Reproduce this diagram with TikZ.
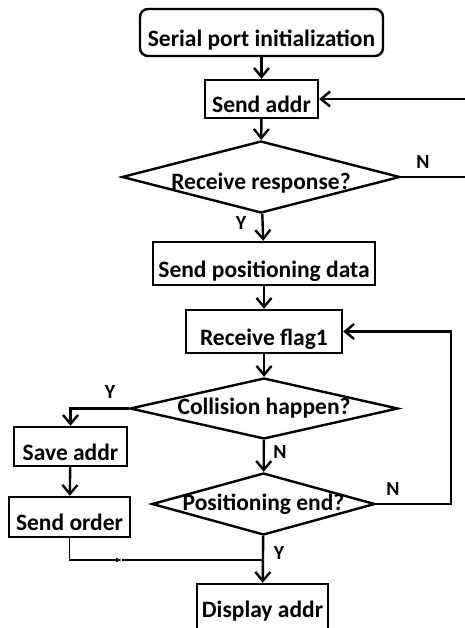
\documentclass[tikz,border=0pt]{standalone}
\usepackage{fontspec}
\setmainfont{Carlito}
\usetikzlibrary{shapes.geometric,arrows.meta}
\begin{document}
\begin{tikzpicture}
  [x=1pt,y=-1pt,line width=2.4pt,>={Straight Barb[length=9pt,width=15pt]},
   every node/.style={font=\bfseries\fontsize{23.5}{26}\selectfont,inner sep=0pt},
   box/.style={draw,rectangle,text height=27.5pt,text depth=0pt},
   cond/.style={draw,diamond},
   lbl/.style={font=\bfseries\fontsize{20}{22}\selectfont}]
  \useasboundingbox (0,0) rectangle (464,628);
  \node (init)[box,rounded corners=8pt,minimum width=243pt,minimum height=47pt] at (261.5,32.5) {Serial port initialization};
  \node (addr)[box,minimum width=113pt,minimum height=38pt] at (261.5,99) {Send addr};
  \node (resp)[cond,text height=26pt,text depth=0pt,minimum width=278pt,minimum height=72pt] at (261,177) {\makebox[0pt]{Receive response?}};
  \node (pos)[box,minimum width=222pt,minimum height=43pt] at (264,263.5) {Send positioning data};
  \node (flag)[box,minimum width=156pt,minimum height=43pt] at (264,331.5) {Receive flag1};
  \node (coll)[cond,minimum width=268pt,minimum height=61pt] at (264,408.5) {\makebox[0pt]{Collision happen?}};
  \node (posend)[cond,minimum width=223pt,minimum height=62pt] at (263.5,504) {\makebox[0pt]{Positioning end?}};
  \node (save)[box,minimum width=113pt,minimum height=39pt] at (70.5,446.5) {Save addr};
  \node (order)[box,minimum width=121pt,minimum height=40pt] at (69.5,517) {Send order};
  \node (disp)[box,text height=20pt,minimum width=131pt,minimum height=46pt] at (262.5,607) {Display addr};
  % answers
  \node (n1)[lbl] at (423,162) {N};
  \node (y1)[lbl] at (241,223) {Y};
  \node (y2)[lbl] at (110,392) {Y};
  \node (n2)[lbl] at (280,452) {N};
  \node (n3)[lbl] at (393,489) {N};
  \node (y3)[lbl] at (279,553) {Y};
  \coordinate (r1) at (470,177);
  \coordinate (r2) at (451,504);
  \coordinate (mid) at (122,560);
  \coordinate (join) at (263.5,560);
 \foreach \from/\to in {init/addr,addr/resp,resp/pos,pos/flag,flag/coll,coll/posend,posend/disp,save/order}
    \draw[->] (\from) -- (\to);
  \draw[->] (resp.east) -- (r1) |- (addr.east);
  \draw[->] (posend.east) -- (r2) |- (flag.east);
  \draw[->] (coll.west) -| (save.north);
  \draw[line width=1.4pt,-{Latex[length=6pt,width=5pt]}] (order.south) |- (mid);
  \draw[line width=1.4pt] (mid) -- (join);
\end{tikzpicture}
\end{document}
